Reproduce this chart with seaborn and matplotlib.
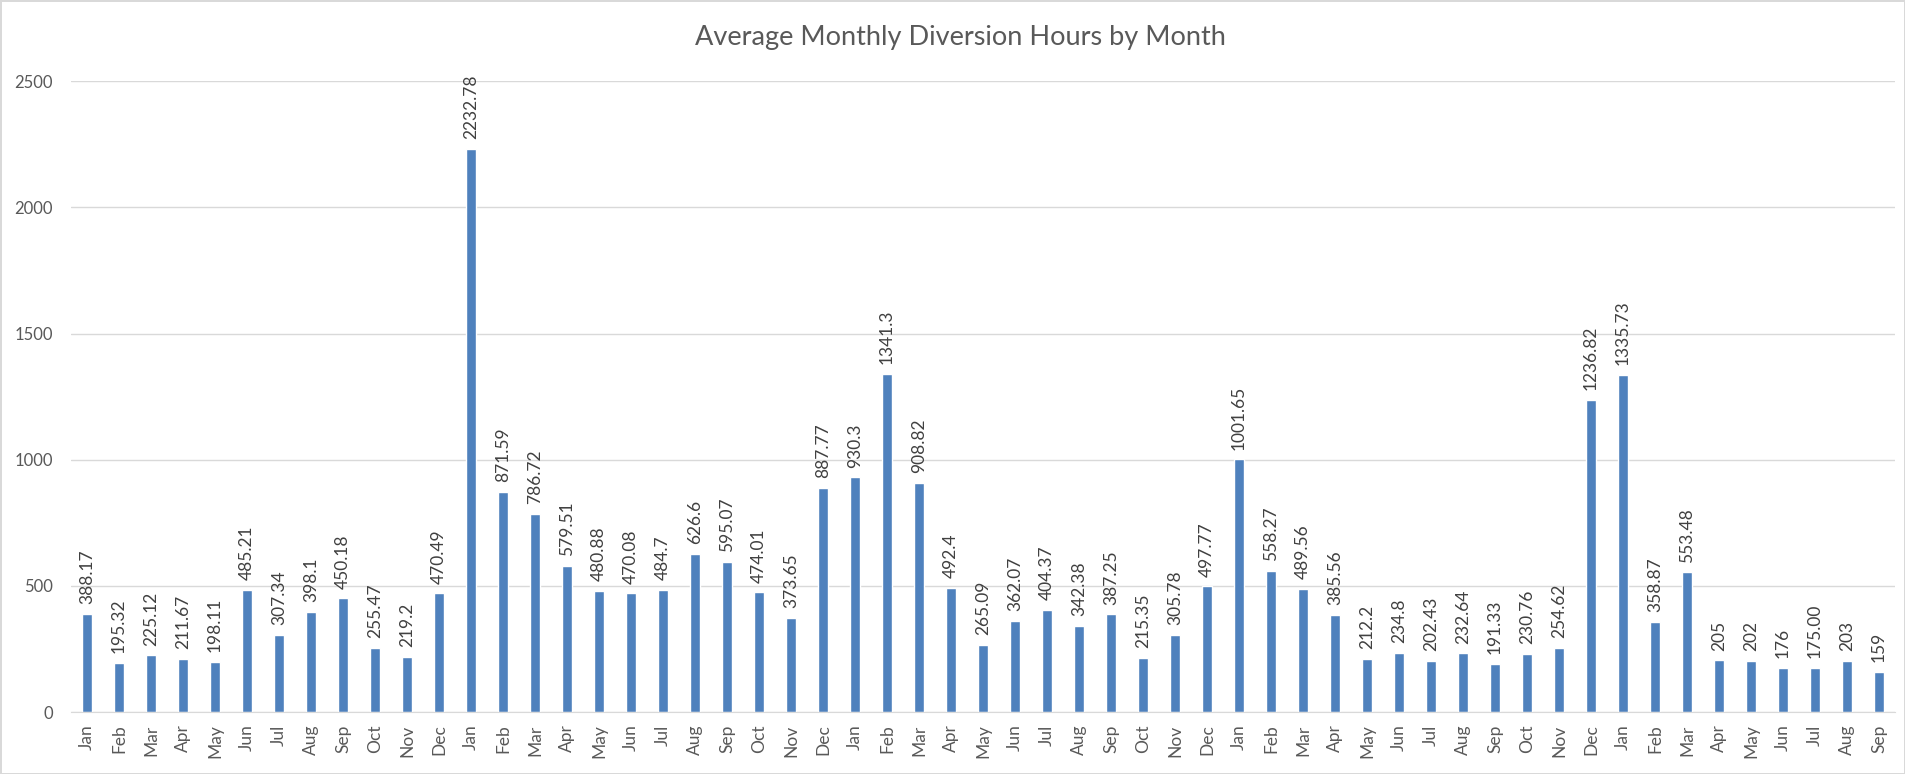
import matplotlib
matplotlib.use("Agg")
import matplotlib.pyplot as plt
import seaborn as sns
import pandas as pd

# month labels along the x axis (57 months, Jan .. Sep four years later)
months = (["Jan", "Feb", "Mar", "Apr", "May", "Jun", "Jul", "Aug", "Sep", "Oct", "Nov", "Dec"] * 4
          + ["Jan", "Feb", "Mar", "Apr", "May", "Jun", "Jul", "Aug", "Sep"])

# data labels exactly as printed on the chart
value_labels = [
    "388.17", "195.32", "225.12", "211.67", "198.11", "485.21", "307.34", "398.1", "450.18", "255.47", "219.2", "470.49",
    "2232.78", "871.59", "786.72", "579.51", "480.88", "470.08", "484.7", "626.6", "595.07", "474.01", "373.65", "887.77",
    "930.3", "1341.3", "908.82", "492.4", "265.09", "362.07", "404.37", "342.38", "387.25", "215.35", "305.78", "497.77",
    "1001.65", "558.27", "489.56", "385.56", "212.2", "234.8", "202.43", "232.64", "191.33", "230.76", "254.62", "1236.82",
    "1335.73", "358.87", "553.48", "205", "202", "176", "175.00", "203", "159",
]
hours = [float(v) for v in value_labels]

df = pd.DataFrame({"pos": range(len(hours)), "month": months, "hours": hours})

sns.set_style("white")
plt.rcParams["font.family"] = ["Lato", "DejaVu Sans"]

fig = plt.figure(figsize=(19.05, 7.74), dpi=100)
fig.patch.set_edgecolor("#D9D9D9")
fig.patch.set_linewidth(2)
ax = fig.add_axes([0.0373, 0.080, 0.9575, 0.815])

sns.barplot(data=df, x="pos", y="hours", color="#4F81BD", saturation=1, width=0.31, ax=ax)

# rotated value labels above each bar
ax.bar_label(ax.containers[0], labels=value_labels, rotation=90, padding=7,
             fontsize=12.5, color="#404040")

ax.set_ylim(0, 2500)
ax.set_xlim(-0.5, len(hours) - 0.5)
ax.set_yticks([0, 500, 1000, 1500, 2000, 2500])
ax.set_xticks(range(len(hours)))
ax.set_xticklabels(months, rotation=90)
ax.tick_params(axis="x", length=0, pad=9, labelsize=12.5, labelcolor="#595959")
ax.tick_params(axis="y", length=0, pad=13, labelsize=12, labelcolor="#595959")
ax.yaxis.grid(True, color="#D9D9D9", linewidth=1)
ax.set_axisbelow(True)
ax.set_xlabel("")
ax.set_ylabel("")
for side in ["left", "right", "top"]:
    ax.spines[side].set_visible(False)
ax.spines["bottom"].set_color("#D9D9D9")

fig.text(0.504, 0.951, "Average Monthly Diversion Hours by Month", ha="center", va="center",
         fontsize=19.5, color="#595959")

fig.savefig("out.png", dpi=100)
